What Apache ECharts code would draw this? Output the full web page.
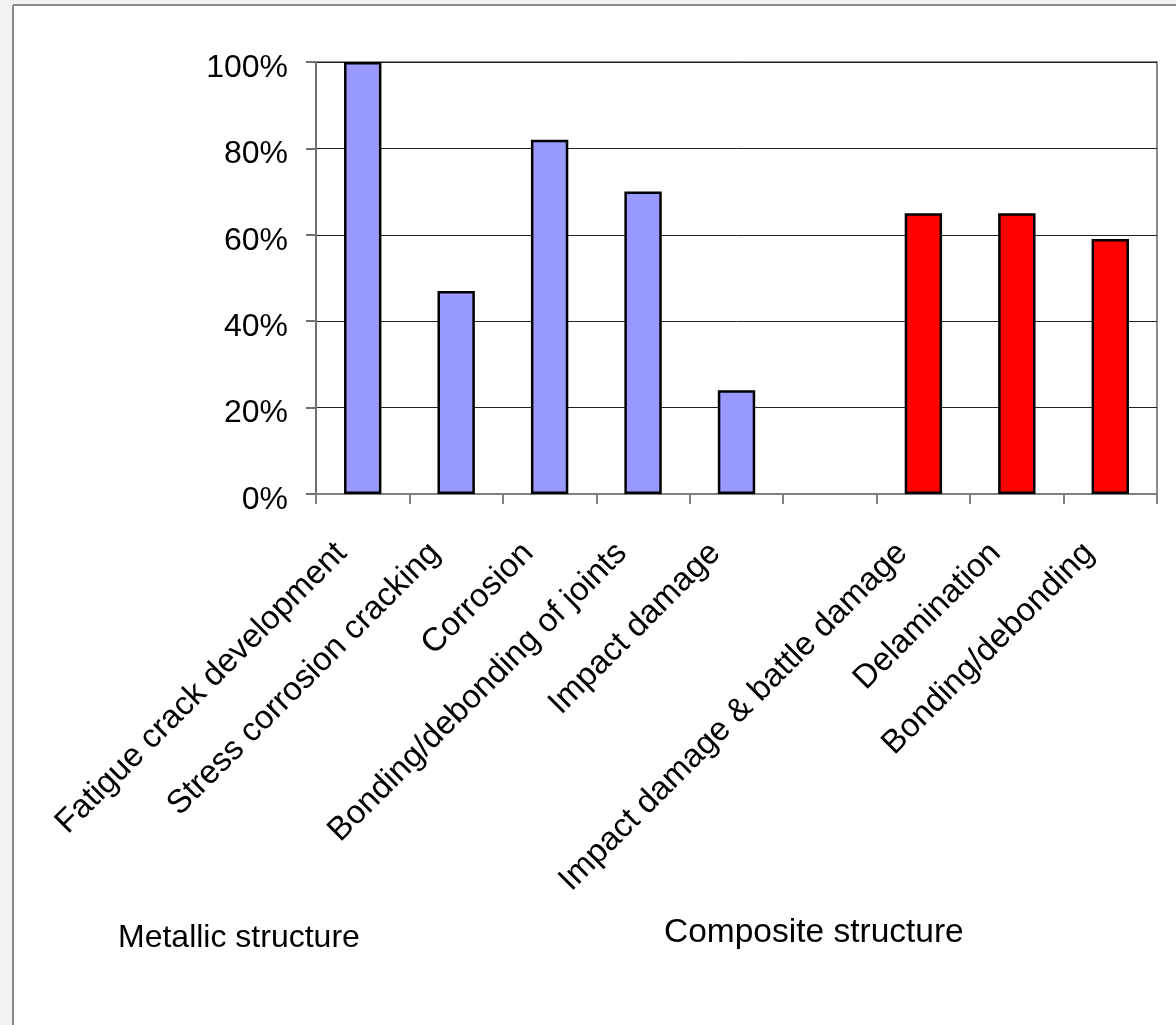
<!DOCTYPE html>
<html>
<head>
<meta charset="utf-8">
<script src="https://cdn.jsdelivr.net/npm/echarts@6/dist/echarts.min.js"></script>
<style>
  html, body { margin: 0; padding: 0; background: #ffffff; }
  #chart { width: 1176px; height: 1025px; }
</style>
</head>
<body>
<div id="chart"></div>
<script>
// Damage types per structure kind; the blank slot separates the two groups
const categories = [
  'Fatigue crack development',
  'Stress corrosion cracking',
  'Corrosion',
  'Bonding/debonding of joints',
  'Impact damage',
  '',
  'Impact damage & battle damage',
  'Delamination',
  'Bonding/debonding'
];
const shareValues = [100, 47, 82, 70, 24, null, 65, 65, 59];
const structureGroup = ['metallic', 'metallic', 'metallic', 'metallic', 'metallic', '', 'composite', 'composite', 'composite'];
const yTicks = [0, 20, 40, 60, 80, 100];
const groupTitles = ['Metallic structure', 'Composite structure'];

const groupColors = { metallic: '#9999ff', composite: '#ff0000' };
const FONT = '"Liberation Sans", Arial, sans-serif';

const chart = echarts.init(document.getElementById('chart'), null, { renderer: 'canvas' });

chart.setOption({
  animation: false,
  backgroundColor: '#ffffff',
  grid: {
    left: 316, top: 62, right: 19, bottom: 531,
    show: true, borderColor: '#8a8a8a', borderWidth: 2, backgroundColor: 'transparent'
  },
  xAxis: {
    type: 'category',
    data: categories,
    boundaryGap: true,
    axisLine: { show: true, lineStyle: { color: '#808080', width: 2 } },
    axisTick: { show: true, interval: 0, length: 10, lineStyle: { color: '#808080', width: 2 } },
    axisLabel: {
      interval: 0, rotate: 45, margin: 33, padding: [0, 30, 0, 0],
      color: '#000', fontSize: 33, fontFamily: FONT
    },
    splitLine: { show: false }
  },
  yAxis: {
    type: 'value',
    min: yTicks[0], max: yTicks[yTicks.length - 1], interval: yTicks[1] - yTicks[0],
    axisLine: { show: true, lineStyle: { color: '#707070', width: 2 } },
    axisTick: { show: true, length: 10, lineStyle: { color: '#707070', width: 2 } },
    axisLabel: {
      margin: 28, color: '#000', fontSize: 32, fontFamily: FONT,
      formatter: v => '{pct|' + v + '%}',
      rich: { pct: { fontSize: 32, fontFamily: FONT, color: '#000', padding: [12, 0, 0, 0] } }
    },
    splitLine: { show: true, lineStyle: { color: '#222', width: 1 } }
  },
  series: [{
    type: 'bar',
    data: shareValues.map((v, i) => ({
      value: v,
      itemStyle: { color: groupColors[structureGroup[i]] || '#9999ff' }
    })),
    barWidth: '40%',
    itemStyle: { borderColor: '#000', borderWidth: 2.5 }
  }],
  graphic: [
    // page frame
    { type: 'rect', shape: { x: 0, y: 0, width: 1176, height: 5 }, style: { fill: '#f3f3f3' }, silent: true },
    { type: 'rect', shape: { x: 0, y: 0, width: 13, height: 1025 }, style: { fill: '#f3f3f3' }, silent: true },
    { type: 'line', shape: { x1: 13, y1: 5, x2: 1176, y2: 5 }, style: { stroke: '#8a8a8a', lineWidth: 2 }, silent: true },
    { type: 'line', shape: { x1: 13, y1: 5, x2: 13, y2: 1025 }, style: { stroke: '#8a8a8a', lineWidth: 2 }, silent: true },
    // group captions
    { type: 'text', left: 118, top: 922, style: { text: groupTitles[0], font: '32px ' + FONT, fill: '#000' } },
    { type: 'text', left: 664, top: 916, style: { text: groupTitles[1], font: '33.5px ' + FONT, fill: '#000' } }
  ]
});
</script>
</body>
</html>
